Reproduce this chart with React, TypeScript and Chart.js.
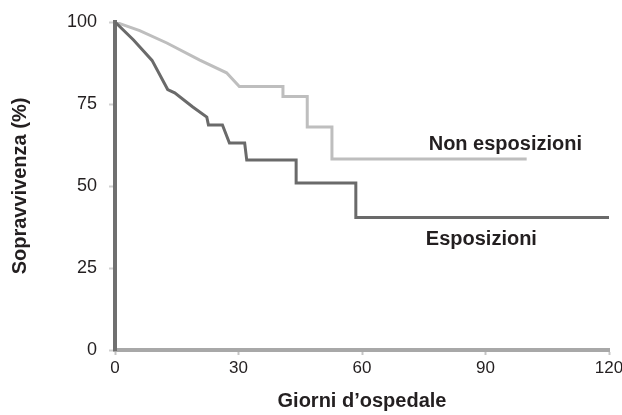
import React, { useEffect, useRef } from "react";
import { Chart, registerables } from "chart.js";

Chart.register(...registerables);

// Kaplan-Meier curves read as polyline vertices: day and survival (%)
const nonExposedDays = [0, 6, 12.6, 20.6, 27.1, 30.2, 40.8, 40.8, 46.7, 46.7, 52.7, 52.7, 100];
const nonExposedSurvival = [100, 97.4, 93.6, 88.4, 84.5, 80.3, 80.3, 77.3, 77.3, 68, 68, 58.2, 58.2];

const exposedDays = [0, 4.5, 9, 12.8, 14.5, 18.9, 22.3, 22.7, 26.1, 27.8, 31.5, 32, 44, 44, 58.5, 58.5, 120];
const exposedSurvival = [100, 94.5, 88.3, 79.4, 78.4, 74.1, 71, 68.6, 68.6, 63.1, 63.1, 57.9, 57.9, 50.9, 50.9, 40.4, 40.4];

const seriesNames = ["Esposizioni", "Non esposizioni"];
const xTickValues = [0, 30, 60, 90, 120];
const yTickValues = [0, 25, 50, 75, 100];
const xTitle = "Giorni d\u2019ospedale";
const yTitle = "Sopravvivenza (%)";

// In-plot labels (text, day, survival %)
const labelTexts = ["Non esposizioni", "Esposizioni"];
const labelDays = [76.2, 75.5];
const labelSurvival = [61.0, 32.0];

export default function App() {
  const ref = useRef<HTMLCanvasElement | null>(null);

  useEffect(() => {
    document.body.style.margin = "0";
    const family = "'Liberation Sans', Arial, Helvetica, sans-serif";
    const ink = "#231f20";

    const labelPlugin = {
      id: "seriesLabels",
      afterDatasetsDraw(chart: any) {
        const { ctx } = chart;
        const x = chart.scales.x;
        const y = chart.scales.y;
        ctx.save();
        ctx.font = `bold 20px ${family}`;
        ctx.fillStyle = ink;
        ctx.textAlign = "left";
        ctx.textBaseline = "alphabetic";
        labelTexts.forEach((t, i) => {
          ctx.fillText(t, x.getPixelForValue(labelDays[i]), y.getPixelForValue(labelSurvival[i]));
        });
        ctx.restore();
      },
    };

    const chart = new Chart(ref.current as HTMLCanvasElement, {
      type: "line",
      data: {
        datasets: [
          {
            label: seriesNames[0],
            data: exposedDays.map((d, i) => ({ x: d, y: exposedSurvival[i] })),
            borderColor: "#6a6a6a",
            borderWidth: 3,
            pointRadius: 0,
            tension: 0,
            fill: false,
          },
          {
            label: seriesNames[1],
            data: nonExposedDays.map((d, i) => ({ x: d, y: nonExposedSurvival[i] })),
            borderColor: "#bebebe",
            borderWidth: 3,
            pointRadius: 0,
            tension: 0,
            fill: false,
          },
        ],
      },
      options: {
        animation: false,
        responsive: false,
        layout: { padding: { left: 0, top: 22, right: 13, bottom: 0 } },
        plugins: { legend: { display: false }, tooltip: { enabled: false } },
        scales: {
          x: {
            type: "linear",
            min: 0,
            max: 120,
            afterBuildTicks: (s: any) => {
              s.ticks = xTickValues.map((v) => ({ value: v }));
            },
            afterFit: (s: any) => {
              s.height = 65;
              s.paddingLeft = 0;
              s.paddingRight = 0;
            },
            grid: { drawOnChartArea: false, drawTicks: true, tickLength: 5, tickColor: "#c4c4c4", tickWidth: 2 },
            border: { color: "#a8a8a8", width: 4 },
            ticks: { font: { family, size: 17 }, color: ink, padding: 3, maxRotation: 0, autoSkip: false },
            title: {
              display: true,
              text: xTitle,
              color: ink,
              font: { family, size: 20, weight: "bold" },
              padding: { top: 0, bottom: 2 },
            },
          },
          y: {
            type: "linear",
            min: 0,
            max: 100,
            afterBuildTicks: (s: any) => {
              s.ticks = yTickValues.map((v) => ({ value: v }));
            },
            afterFit: (s: any) => {
              s.width = 115;
              s.paddingTop = 0;
              s.paddingBottom = 0;
            },
            grid: { drawOnChartArea: false, drawTicks: true, tickLength: 6, tickColor: "#d0d0d0", tickWidth: 2 },
            border: { color: "#6f6f6f", width: 4 },
            ticks: { font: { family, size: 18 }, color: ink, padding: 12, autoSkip: false },
            title: {
              display: true,
              text: yTitle,
              color: ink,
              font: { family, size: 20, weight: "bold" },
              padding: { top: 8, bottom: 0 },
            },
          },
        },
      },
      plugins: [labelPlugin],
    } as any);

    return () => chart.destroy();
  }, []);

  return <canvas ref={ref} width={622} height={415} style={{ display: "block" }} />;
}
